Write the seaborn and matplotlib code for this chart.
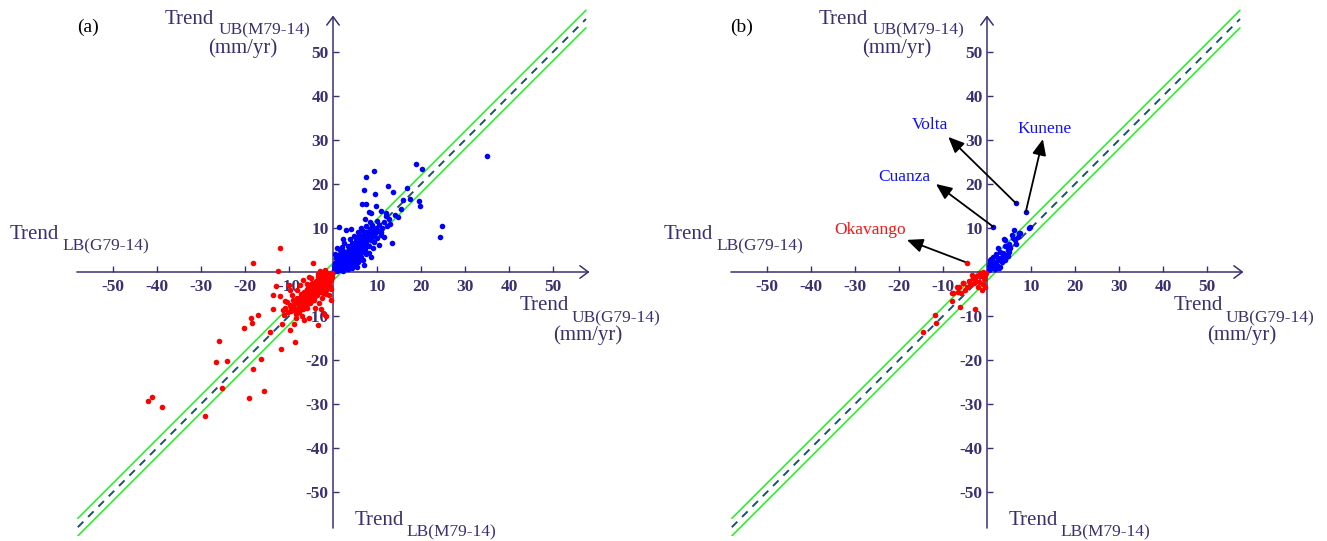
import numpy as np
import pandas as pd
import seaborn as sns
import matplotlib
matplotlib.use('Agg')
import matplotlib.pyplot as plt

# ---- data (mm/yr) ----
a_blue_x = [18.9, 20.2, 9.3, 7.4, 12.6, 7.0, 13.6, 9.5, 16.8, 17.4, 19.5, 15.9, 6.7, 7.6, 9.8, 19.8,
            15.4, 10.8, 8.1, 8.6, 12.0, 7.2, 12.8, 24.8, 24.3, 13.3, 11.6, 1.4, 2.9, 4.0, 2.3, 7.0,
            6.9, 7.6, 35.0,
            0.3, 0.5, 0.6, 0.8, 1.0, 1.1, 1.2, 1.4, 1.5, 1.6, 1.8, 1.9, 2.0, 2.1, 2.2, 2.4, 2.5, 2.6,
            2.7, 2.8, 3.0, 3.0, 3.1, 3.2, 3.4, 3.5, 3.6, 3.7, 3.8, 3.9, 4.0, 4.1, 4.2, 4.3, 4.4, 4.5,
            4.6, 4.7, 4.8, 4.9, 5.0, 5.1, 5.2, 5.3, 5.4, 5.5, 5.6, 5.7, 5.8, 5.9, 6.0, 6.1, 6.2, 6.3,
            6.4, 6.5, 6.6, 6.8, 6.9, 7.0, 7.2, 7.3, 7.5, 7.6, 7.8, 8.0, 8.1, 8.3, 8.5, 8.7, 8.9, 9.1,
            9.3, 9.5, 9.7, 10.0, 10.2, 10.5, 10.8, 11.2, 11.6, 12.2, 0.2, 0.4, 0.9, 1.3, 0.7, 1.7,
            2.3, 2.0, 3.3, 2.6, 1.5, 0.5, 0.9, 4.8, 5.6, 3.9, 6.4, 2.2, 3.3, 4.9, 6.0, 5.5, 8.2, 9.0,
            8.6, 10.4, 11.0, 12.0, 13.0, 14.2, 14.8,
            0.2, 0.6, 0.9, 1.2, 1.7, 2.0, 2.5, 2.9, 3.1, 3.5, 3.6, 4.0, 4.2, 4.5, 4.8, 5.0, 5.3, 5.5,
            5.8, 6.0, 6.3, 6.5, 6.8, 7.0, 7.2, 7.5, 7.8, 8.0, 8.3, 8.6, 9.0, 9.2, 9.6, 3.8, 4.6, 5.4,
            6.2, 7.0, 7.7, 1.1, 1.9, 2.8, 3.6, 4.4, 5.2, 6.0, 6.8, 7.6, 8.4, 0.6, 1.4, 2.2, 3.0, 3.8,
            4.6, 5.4, 6.2, 7.0, 8.8, 10.0]
a_blue_y = [24.6, 23.3, 22.9, 21.7, 19.5, 18.7, 18.1, 17.8, 19.0, 16.7, 16.2, 16.4, 15.5, 15.4, 14.9, 14.9,
            14.4, 13.9, 13.6, 13.5, 12.8, 12.0, 12.0, 10.5, 8.0, 6.7, 8.0, 10.2, 9.5, 9.8, 7.5, 1.6,
            2.8, 4.2, 26.4,
            0.5, 0.2, 0.9, 1.4, 0.6, 1.8, 1.1, 0.4, 2.2, 1.5, 0.9, 2.6, 1.8, 3.2, 1.2, 2.4, 0.7, 3.6,
            2.0, 2.9, 1.5, 4.0, 3.3, 2.4, 4.5, 1.2, 3.0, 5.0, 3.8, 2.1, 4.4, 5.6, 3.2, 1.0, 4.8, 6.1,
            3.7, 2.6, 5.3, 6.7, 4.2, 5.8, 3.1, 7.0, 4.9, 6.3, 2.2, 5.5, 7.4, 4.0, 6.8, 5.1, 8.0, 3.5,
            6.2, 7.6, 4.6, 5.7, 8.4, 6.6, 7.8, 5.0, 8.6, 6.9, 9.2, 7.4, 5.9, 8.5, 9.8, 7.2, 8.0, 9.5,
            6.8, 8.8, 10.1, 7.7, 9.3, 10.6, 8.5, 10.0, 11.4, 10.5, 1.3, 2.0, 2.9, 3.6, 3.2, 4.2,
            4.8, 5.6, 6.0, 6.5, 5.0, 4.0, 5.5, 8.2, 9.0, 7.6, 10.0, 0.3, 0.6, 1.5, 2.8, 1.2, 4.4, 5.5,
            3.4, 6.2, 9.0, 13.5, 10.8, 13.0, 12.5,
            0.2, 0.4, 0.3, 2.4, 2.0, 2.9, 1.9, 3.6, 2.0, 3.8, 4.9, 3.5, 4.9, 4.0, 3.0, 5.8, 4.4, 5.2,
            6.0, 4.8, 6.9, 5.6, 7.2, 7.9, 6.2, 7.1, 7.8, 8.8, 7.6, 8.9, 9.8, 8.2, 9.2, 1.6, 2.1, 3.6,
            4.0, 5.5, 6.0, 3.0, 3.8, 4.6, 5.6, 6.6, 7.4, 8.3, 9.3, 10.4, 11.3, 1.8, 1.0, 2.1, 2.9, 4.1,
            5.0, 6.1, 7.0, 8.5, 10.6, 11.7]

a_red_x = [-42.1, -41.1, -38.9, -29.0, -25.2, -26.5, -24.2, -25.8, -19.2, -15.6, -18.1, -16.4, -20.3,
           -18.6, -18.4, -17.1, -11.9, -8.6, -14.3, -9.8, -11.7, -13.6, -11.3, -8.8, -8.3, -6.7, -5.4,
           -2.7, -1.6, -0.5, -13.7, -12.0, -12.9, -18.2, -4.6, -12.5, -9.4, -12.0, -3.5, -2.0,
           -0.3, -0.5, -0.6, -0.8, -1.0, -1.1, -1.2, -1.4, -1.5, -1.6, -1.8, -1.9, -2.0, -2.1, -2.2,
           -2.4, -2.5, -2.6, -2.7, -2.8, -3.0, -3.0, -3.1, -3.2, -3.4, -3.5, -3.6, -3.7, -3.8, -3.9,
           -4.0, -4.1, -4.2, -4.4, -4.5, -4.6, -4.7, -4.8, -4.9, -5.0, -5.1, -5.2, -5.3, -5.4, -5.5,
           -5.7, -5.8, -5.9, -6.0, -6.1, -6.2, -6.4, -6.5, -6.6, -6.8, -6.9, -7.0, -7.2, -7.3, -7.5,
           -7.6, -7.8, -8.0, -8.1, -8.3, -8.5, -8.7, -9.0, -9.2, -9.5, -9.8, -10.2, -10.5, -10.8,
           -11.2, -0.2, -0.4, -0.9, -1.3, -0.7, -1.7, -2.3, -1.5, -0.5, -0.9, -2.2, -3.3, -4.9, -6.0,
           -5.5, -7.5, -8.2, -3.0, -1.8, -6.8, -9.8, -11.0, -10.0, -7.0, -4.0, -3.2, -2.6,
           -0.2, -0.6, -1.0, -1.4, -1.8, -2.2, -2.6, -3.0, -3.4, -3.8, -4.2, -4.6, -5.0, -5.4, -5.8,
           -6.2, -6.6, -7.0, -7.4, -7.8, -8.2, -8.6, -1.2, -2.0, -2.8, -3.6, -4.4, -5.2, -6.0, -1.6,
           -2.4, -3.2, -4.0, -4.8, -5.6, -6.4, -7.2, -8.0, -8.8, -9.6]
a_red_y = [-29.3, -28.3, -30.6, -32.7, -26.3, -20.5, -20.2, -15.6, -28.6, -27.0, -22.0, -19.8, -12.7,
           -10.5, -11.7, -9.8, -17.6, -16.0, -13.6, -13.2, -11.8, -8.3, -8.6, -11.8, -10.5, -10.8, -10.5,
           -8.5, -9.9, -6.4, -5.3, -5.4, -3.2, 2.0, 2.0, 0.2, -5.2, 5.5, -12.0, -9.5,
           -0.4, -0.2, -0.9, -1.3, -0.5, -1.7, -1.0, -0.3, -2.1, -1.4, -0.8, -2.5, -1.7, -3.0, -1.1,
           -2.3, -0.6, -3.4, -1.9, -2.8, -1.4, -3.9, -3.2, -2.3, -4.4, -1.1, -2.9, -4.9, -3.7, -2.0,
           -4.3, -5.5, -3.1, -4.7, -6.0, -3.6, -2.5, -5.2, -6.6, -4.1, -5.7, -3.0, -6.9, -4.8, -6.2,
           -5.4, -7.3, -3.9, -6.7, -5.0, -7.9, -6.1, -7.5, -4.5, -5.6, -8.3, -6.5, -7.7, -4.9, -8.5,
           -6.8, -9.1, -7.3, -5.8, -8.4, -9.6, -7.1, -8.0, -6.3, -8.9, -7.5, -9.2, -6.8, -8.2,
           -9.8, -1.2, -1.9, -2.8, -3.5, -3.1, -4.1, -4.7, -4.9, -3.9, -5.3, -0.2, -0.5, -1.4, -2.7,
           -1.1, -3.0, -4.0, 0.3, 0.4, -1.8, -4.2, -6.5, -3.0, -10.0, -8.2, -7.0, -6.0,
           -0.2, -0.5, -1.3, -1.8, -1.2, -2.6, -2.0, -3.5, -2.6, -4.2, -3.8, -5.1, -4.6, -5.9, -5.0,
           -6.5, -5.8, -7.2, -6.2, -7.9, -7.0, -8.6, -2.6, -3.6, -4.5, -5.3, -6.3, -7.1, -8.1, -0.4,
           -1.2, -1.8, -2.6, -3.4, -4.2, -4.9, -5.7, -6.2, -6.6, -8.1]

b_blue_x = [1.4, 6.6, 8.8, 9.7, 9.5, 6.2, 7.3, 7.1, 6.7, 6.0, 4.1, 3.9, 4.5, 5.2, 2.6, 3.0, 1.4, 0.7,
            0.7, 1.4, 1.8, 2.2, 2.6, 3.3, 3.7, 4.3, 4.7, 3.0, 1.0, 0.5, 1.9, 2.4, 3.4, 4.0, 5.0, 4.9,
            2.0, 1.0, 0.4, 2.8, 5.6, 7.5, 4.2, 6.4, 4.8]
b_blue_y = [10.3, 15.6, 13.6, 10.3, 10.0, 9.5, 8.8, 8.0, 6.3, 7.7, 7.3, 7.4, 5.8, 5.4, 5.4, 4.6, 3.5, 2.7,
            2.0, 1.8, 2.3, 1.6, 2.7, 3.5, 4.3, 3.9, 3.6, 1.2, 0.8, 1.3, 0.6, 3.2, 2.2, 2.8, 4.5, 6.4,
            4.0, 2.9, 0.5, 0.9, 8.4, 8.8, 5.8, 7.3, 5.0]

b_red_x = [-4.5, -3.5, -3.1, -2.3, -1.6, -1.2, -0.8, -0.4, -5.5, -6.4, -6.7, -5.9, -7.9, -5.0, -6.1,
           -2.7, -11.8, -11.7, -14.5, -1.2, -2.0, -2.8, -8.0, -7.8, -5.4, -6.9, -4.2, -3.0, -1.8, -0.6,
           -0.3, -1.0, -0.5, -4.6, -3.8]
b_red_y = [2.1, -0.7, -1.4, -1.0, -0.3, -1.0, -0.1, -0.7, -2.6, -3.3, -4.5, -4.8, -4.7, -4.1, -7.9,
           -8.4, -9.8, -11.7, -13.6, -4.1, -3.3, -1.8, -6.7, -4.8, -2.5, -3.5, -2.0, -2.6, -2.2, -1.6,
           -0.3, -2.8, -3.3, -3.5, -3.0]

# labelled basins in (b): name, point, arrow tip, label position, colour
basins = ['Okavango', 'Cuanza', 'Volta', 'Kunene']
basin_pt = [(-4.5, 2.1), (1.4, 10.3), (6.6, 15.6), (8.8, 13.6)]
basin_tip = [(-18.2, 7.3), (-11.6, 20.0), (-8.8, 30.7), (12.7, 30.2)]
basin_lbl = [(-26.6, 9.5), (-18.8, 21.6), (-13.0, 33.4), (13.0, 32.5)]
basin_col = ['#ff1010', '#1010ff', '#1010ff', '#1010ff']

ticks = [-50, -40, -30, -20, -10, 10, 20, 30, 40, 50]
diag = [-58, 57.5]
band = 2.0

axcol = '#3b2f72'
blue = '#0000ff'
red = '#ff0000'

sns.set_style('white')
plt.rcParams['font.family'] = ['Liberation Serif', 'DejaVu Serif']

fig = plt.figure(figsize=(13.27, 5.41), dpi=100)
ax1 = fig.add_axes([69 / 1327, 5 / 541, 528 / 1327, 528 / 541])
ax2 = fig.add_axes([723 / 1327, 5 / 541, 528 / 1327, 528 / 541])


def setup(ax, tag):
    ax.set_xlim(-60, 60)
    ax.set_ylim(-60, 60)
    ax.patch.set_alpha(0)
    for s in ax.spines.values():
        s.set_visible(False)
    ax.spines['left'].set_position(('data', 0))
    ax.spines['bottom'].set_position(('data', 0))
    ax.set_xticks(ticks)
    ax.set_yticks(ticks)
    ax.set_xticklabels([str(t) for t in ticks], fontweight='bold', fontsize=12.5)
    ax.set_yticklabels([str(t) for t in ticks], fontweight='bold', fontsize=12.5)
    ax.tick_params(axis='both', direction='in', length=4, width=1, colors=axcol)
    ax.tick_params(axis='x', pad=5)
    ax.tick_params(axis='y', pad=3)
    ax.xaxis.set_ticks_position('bottom')
    ax.yaxis.set_ticks_position('left')

    # axes with open arrow heads
    arr = dict(arrowstyle='->,head_length=0.6,head_width=0.45', color=axcol, lw=1.1,
               shrinkA=0, shrinkB=0)
    ax.annotate('', xy=(58.3, 0), xytext=(-58.2, 0), arrowprops=arr, annotation_clip=False)
    ax.annotate('', xy=(0, 58.3), xytext=(0, -58.2), arrowprops=arr, annotation_clip=False)

    # 1:1 line and +/- band
    d = np.array(diag)
    ax.plot(d, d + band, color='#22ee22', lw=1.1, zorder=2)
    ax.plot(d, d - band, color='#22ee22', lw=1.1, zorder=2)
    ax.plot(d, d, color='#1f4f6a', lw=1.4, ls=(0, (4, 3.5)), zorder=2)

    # axis titles
    tk = dict(color=axcol, fontsize=15, va='baseline', ha='left')
    sb = dict(color=axcol, fontsize=12.5, va='baseline', ha='left')
    ax.text(-38.2, 56.4, 'Trend', **tk)
    ax.text(-26.1, 53.9, 'UB(M79-14)', **sb)
    ax.text(-28.4, 49.8, '(mm/yr)', **tk)
    ax.text(42.5, -8.6, 'Trend', **tk)
    ax.text(54.3, -11.4, 'UB(G79-14)', **sb)
    ax.text(50.0, -15.5, '(mm/yr)', **tk)
    ax.text(-73.4, 7.5, 'Trend', **tk)
    ax.text(-61.6, 5.0, 'LB(G79-14)', **sb)
    ax.text(5.0, -57.5, 'Trend', **tk)
    ax.text(16.8, -60.0, 'LB(M79-14)', **sb)
    ax.text(-55.7, 55.7, tag, fontsize=14, color='black', ha='center', va='center')


setup(ax1, '(a)')
setup(ax2, '(b)')

sns.scatterplot(x=a_blue_x, y=a_blue_y, color=blue, s=16, linewidth=0, ax=ax1, zorder=3)
sns.scatterplot(x=a_red_x, y=a_red_y, color=red, s=16, linewidth=0, ax=ax1, zorder=4)
sns.scatterplot(x=b_blue_x, y=b_blue_y, color=blue, s=16, linewidth=0, ax=ax2, zorder=3)
sns.scatterplot(x=b_red_x, y=b_red_y, color=red, s=16, linewidth=0, ax=ax2, zorder=4)

for name, pt, tip, lbl, col in zip(basins, basin_pt, basin_tip, basin_lbl, basin_col):
    ax2.annotate('', xy=tip, xytext=pt,
                 arrowprops=dict(arrowstyle='-|>,head_length=0.8,head_width=0.35', color='black',
                                 lw=1.3, shrinkA=0, shrinkB=0, mutation_scale=12))
    ax2.text(lbl[0], lbl[1], name, color=col, fontsize=12.5, ha='center', va='center')

for ax in (ax1, ax2):
    ax.set_xlim(-60, 60)
    ax.set_ylim(-60, 60)

fig.savefig('out.png', dpi=100)
plt.close(fig)
